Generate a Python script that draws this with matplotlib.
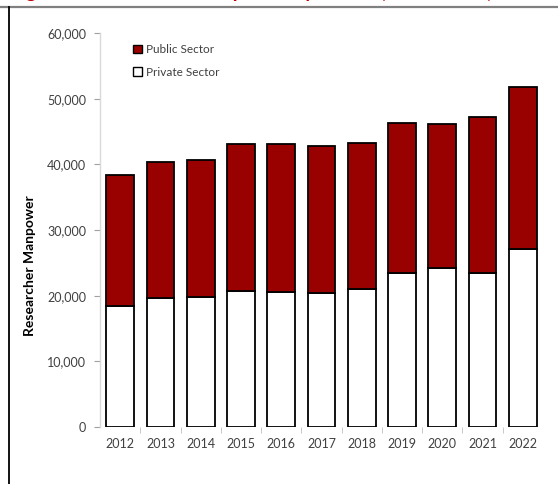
import numpy as np
import matplotlib
matplotlib.use('Agg')
import matplotlib.pyplot as plt
from matplotlib.patches import Patch
from matplotlib.lines import Line2D

plt.rcParams['font.family'] = ['Lato', 'DejaVu Sans']

years = ['2012', '2013', '2014', '2015', '2016', '2017', '2018',
         '2019', '2020', '2021', '2022']
private_sector = [18500, 19700, 19800, 20750, 20500, 20450, 21050,
                  23400, 24200, 23500, 27150]
public_sector = [19950, 20600, 20900, 22350, 22600, 22350, 22200,
                 22900, 21900, 23750, 24650]
yticks = [0, 10000, 20000, 30000, 40000, 50000, 60000]

RED = '#990000'
TXT = '#404040'

fig = plt.figure(figsize=(5.58, 4.84), dpi=100)
ax = fig.add_axes([100/558, 1-427/484, 443/558, 394/484])

x = np.arange(len(years))
ax.bar(x, private_sector, width=0.69, color='white', edgecolor='black',
       linewidth=1.3, zorder=3)
ax.bar(x, public_sector, width=0.69, bottom=private_sector, color=RED,
       edgecolor='black', linewidth=1.3, zorder=3)

ax.set_xlim(-0.5, len(years) - 0.5)
ax.set_ylim(0, 60000)
ax.set_yticks(yticks)
ax.set_yticklabels([f'{v:,}' for v in yticks])
ax.set_xticks(x)
ax.set_xticklabels(years)
ax.set_xticks(np.arange(0.5, len(years) - 1, 1), minor=True)

ax.tick_params(axis='y', length=4, color='#a0a0a0', labelcolor=TXT,
               labelsize=9, pad=6)
ax.tick_params(axis='x', which='major', length=0, labelcolor=TXT,
               labelsize=9, pad=8)
ax.tick_params(axis='x', which='minor', length=4, color='#c0c0c0')

for s in ['top', 'right', 'bottom']:
    ax.spines[s].set_visible(False)
ax.spines['left'].set_color('#d9d9d9')
ax.spines['left'].set_linewidth(1.0)

ax.set_ylabel('Researcher Manpower', fontsize=10, fontweight='bold',
              color='black')
ax.yaxis.set_label_coords(-0.145, 0.41)

handles = [Patch(facecolor=RED, edgecolor='black', linewidth=1.0),
           Patch(facecolor='white', edgecolor='black', linewidth=1.0)]
ax.legend(handles, ['Public Sector', 'Private Sector'], loc='upper left',
          bbox_to_anchor=(0.074, 0.972), frameon=False, fontsize=8.5,
          handlelength=0.75, handleheight=0.75, handletextpad=0.35,
          labelspacing=1.0, borderpad=0, borderaxespad=0, labelcolor=TXT)

# title of the original figure box, mostly cropped above the top edge
fig.text(10/558, 1 + 2/484, 'Figure 1. Researcher Manpower by Sector (2012–2022)',
         color='#c00000', fontsize=14, fontweight='bold', va='baseline')
fig.add_artist(Line2D([0, 1], [1-6.5/484, 1-6.5/484], color='#808080', lw=1.6))
fig.add_artist(Line2D([8.5/558, 8.5/558], [0, 1-6.5/484], color='black', lw=1.3))

fig.savefig('out.png', dpi=100)
